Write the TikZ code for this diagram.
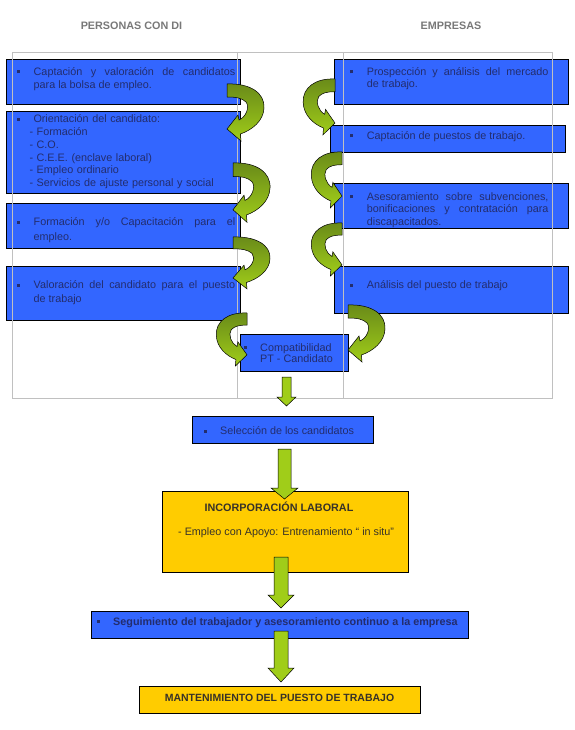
\documentclass[tikz,border=0pt]{standalone}
\usepackage{fontspec}
\setmainfont{Liberation Sans}
\usepackage{tikz}
\usetikzlibrary{positioning}
\usetikzlibrary{calc}

\definecolor{boxblue}{RGB}{51,102,255}
\definecolor{boxyellow}{RGB}{255,204,0}
\definecolor{txtnavy}{RGB}{35,45,110}
\definecolor{txtdark}{RGB}{55,50,40}
\definecolor{hdrgray}{RGB}{120,120,120}
\definecolor{framegray}{RGB}{192,192,192}
\definecolor{arrowdark}{RGB}{105,138,25}
\definecolor{arrowlight}{RGB}{160,205,25}

\newcommand{\vin}{\llap{\rule[2pt]{3pt}{3pt}\hspace{13.5pt}}}
\newcommand{\curvarrow}[3]{%
	\begin{scope}[shift={(#1)},xscale=#2,yscale=#3]
		\draw[bendarrow] (0,0) .. controls (23,-1) and (38,9) .. (37,24)
			.. controls (36.5,37) and (25,46) .. (13.4,50)
			-- (14,57) -- (0,45) -- (11,31) -- (12,36)
			.. controls (19,33) and (23,23) .. (19,18)
			.. controls (15,14) and (9,13) .. (0,13) -- cycle;
	\end{scope}}
\newcommand{\blockdown}[5]{%
	\draw[blockarrow] let \p1=(#1), \p2=(#2) in
		(\x1-#3,\y1) -- (\x1+#3,\y1) -- (\x1+#3,\y2+#5) -- (\x1+#4,\y2+#5)
		-- (\x1,\y2) -- (\x1-#4,\y2+#5) -- (\x1-#3,\y2+#5) -- cycle;}

\begin{document}
\begin{tikzpicture}[x=1pt,y=-1pt,
		bluebox/.style={draw=black,fill=boxblue,line width=0.8pt,inner sep=0pt,outer sep=0pt,anchor=north west},
		yellowbox/.style={bluebox,fill=boxyellow},
		boxtext/.style={inner sep=0pt,anchor=north west,text=txtnavy,font={\fontsize{10.8}{12.8}\selectfont},execute at begin node={\rule{0pt}{10pt}}},
		linetext/.style={inner sep=0pt,anchor=base west,text=txtnavy,font={\fontsize{10.8}{13}\selectfont}},
		headtext/.style={inner sep=0pt,anchor=base,text=hdrgray,font={\fontsize{10.8}{13}\selectfont\bfseries}},
		gridline/.style={draw=framegray,line width=0.6pt},
		bendarrow/.style={draw=black,line width=0.5pt,top color=arrowdark,bottom color=arrowlight},
		blockarrow/.style={draw=black,line width=0.5pt,fill=arrowlight}]
	\useasboundingbox (0,0) rectangle (574,730);

				%Headers
				\node[headtext] (hdl) at (131.5,30) {PERSONAS CON DI};
				\node[headtext] (hdr) at (451,30) {EMPRESAS};

				%Boxes
				\node[bluebox,minimum width=234pt,minimum height=45pt] (p1) at (6,59) {};
				\node[bluebox,minimum width=234pt,minimum height=82pt] (p2) at (6,111) {};
				\node[bluebox,minimum width=234pt,minimum height=45pt] (p3) at (6,203) {};
				\node[bluebox,minimum width=234pt,minimum height=54pt] (p4) at (6,266) {};
				\node[bluebox,minimum width=234pt,minimum height=45pt] (e1) at (334,59) {};
				\node[bluebox,minimum width=235pt,minimum height=27pt] (e2) at (330,125) {};
				\node[bluebox,minimum width=234pt,minimum height=45pt] (e3) at (334,183) {};
				\node[bluebox,minimum width=234pt,minimum height=47pt] (e4) at (334,266) {};
				\node[bluebox,minimum width=108pt,minimum height=37pt] (cpt) at (240,334) {};
				\node[bluebox,minimum width=181pt,minimum height=27pt] (sel) at (192,416) {};
				\node[yellowbox,minimum width=246pt,minimum height=81pt] (inc) at (162,491) {};
				\node[bluebox,minimum width=377pt,minimum height=27pt] (seg) at (91,611) {};
				\node[yellowbox,minimum width=281pt,minimum height=27pt] (man) at (139,686) {};

				%Texts
				\node[boxtext,text width=201.5pt,align=justify] (p1t) at ([shift={(27.5,6.2)}]p1.north west)
					{\vin Captación y valoración de candidatos\linebreak para la bolsa de empleo.};
				\node[boxtext,text width=208pt,align=left] (p2t) at ([shift={(23.3,1.5)}]p2.north west)
					{\hspace*{4pt}\vin Orientación del candidato:\\- Formación\\- C.O.\\- C.E.E. (enclave laboral)\\- Empleo ordinario\\- Servicios de ajuste personal y social};
				\node[boxtext,text width=201.5pt,align=justify,font={\fontsize{10.8}{14.5}\selectfont}] (p3t) at ([shift={(27.5,12.5)}]p3.north west)
					{\vin Formación y/o Capacitación para el\linebreak empleo.};
				\node[boxtext,text width=201.5pt,align=justify,font={\fontsize{10.8}{13.3}\selectfont}] (p4t) at ([shift={(27.5,12.5)}]p4.north west)
					{\vin Valoración del candidato para el puesto\linebreak de trabajo};
				\node[boxtext,text width=181.6pt,align=justify,font={\fontsize{10.8}{12}\selectfont}] (e1t) at ([shift={(32.7,6.2)}]e1.north west)
					{\vin Prospección y análisis del mercado\linebreak de trabajo.};
				\node[boxtext] (e2t) at ([shift={(36.7,4)}]e2.north west) {\vin Captación de puestos de trabajo.};
				\node[boxtext,text width=181.6pt,align=justify,font={\fontsize{10.8}{12.5}\selectfont}] (e3t) at ([shift={(32.7,7)}]e3.north west)
					{\vin Asesoramiento sobre subvenciones,\linebreak bonificaciones y contratación para\linebreak discapacitados.};
				\node[boxtext] (e4t) at ([shift={(32.7,12.5)}]e4.north west) {\vin Análisis del puesto de trabajo};
				\node[boxtext,align=left,font={\fontsize{10.8}{11.5}\selectfont}] (cptt) at ([shift={(20,9.2)}]cpt.north west)
					{\vin Compatibilidad\\PT - Candidato};
				\node[linetext] (selt) at ([shift={(28,18.5)}]sel.north west) {\vin Selección de los candidatos};
				\node[linetext,anchor=base,text=txtdark,font={\fontsize{10.8}{13}\selectfont\bfseries}] (inct) at ([shift={(-6,20)}]inc.north) {INCORPORACIÓN LABORAL};
				\node[linetext,text=txtdark] (incs) at ([shift={(16,44.5)}]inc.north west) {- Empleo con Apoyo: Entrenamiento “ in situ”};
				\node[linetext,font={\fontsize{10.8}{13}\selectfont\bfseries}] (segt) at ([shift={(22,14)}]seg.north west)
					{\vin Seguimiento del trabajador y asesoramiento continuo a la empresa};
				\node[linetext,anchor=base,text=txtdark,font={\fontsize{10.5}{13}\selectfont\bfseries}] (mant) at ([shift={(0,15)}]man.north) {MANTENIMIENTO DEL PUESTO DE TRABAJO};

				%Frame
				\draw[gridline] (12,52) rectangle (552,398);
				\draw[gridline] (237,52) -- (237,398);
				\draw[gridline] (343,52) -- (343,398);

				%Curved arrows
				\coordinate (c1) at ([shift={(-13,-20)}]p1.south east);
				\coordinate (c2) at ([shift={(-7,-30)}]p2.south east);
				\coordinate (c3) at ([shift={(-7,-11)}]p3.south east);
				\coordinate (c4) at ([shift={(7,-7)}]p4.south east);
				\coordinate (c5) at ([shift={(1,-25)}]e1.south west);
				\coordinate (c6) at ([shift={(12,0)}]e2.south west);
				\coordinate (c7) at ([shift={(8,-5)}]e3.south west);
				\coordinate (c8) at ([shift={(14,-8)}]e4.south west);
				\curvarrow{c1}{1}{1}
				\curvarrow{c2}{1}{1.04}
				\curvarrow{c3}{1}{0.91}
				\curvarrow{c4}{-0.83}{0.93}
				\curvarrow{c5}{-0.86}{0.98}
				\curvarrow{c6}{-0.83}{0.98}
				\curvarrow{c7}{-0.83}{0.93}
				\curvarrow{c8}{1}{1}

				%Straight arrows
				\coordinate (d1a) at ([shift={(-7.5,6)}]cpt.south);
				\coordinate (d1b) at ([shift={(4,-10)}]sel.north);
				\coordinate (d2a) at ([shift={(2,6)}]sel.south);
				\coordinate (d2b) at ([shift={(-0.5,8)}]inc.north);
				\coordinate (d3a) at ([shift={(-4,-15)}]inc.south);
				\coordinate (d3b) at ([shift={(1.5,-3)}]seg.north);
				\coordinate (d4a) at ([shift={(1.5,-7)}]seg.south);
				\coordinate (d4b) at ([shift={(1.5,-4)}]man.north);
				\blockdown{d1a}{d1b}{4.5pt}{9.5pt}{9pt}
				\blockdown{d2a}{d2b}{6.5pt}{13.5pt}{11pt}
				\blockdown{d3a}{d3b}{7pt}{13pt}{13pt}
				\blockdown{d4a}{d4b}{7pt}{13pt}{14pt}

\end{tikzpicture}
\end{document}
